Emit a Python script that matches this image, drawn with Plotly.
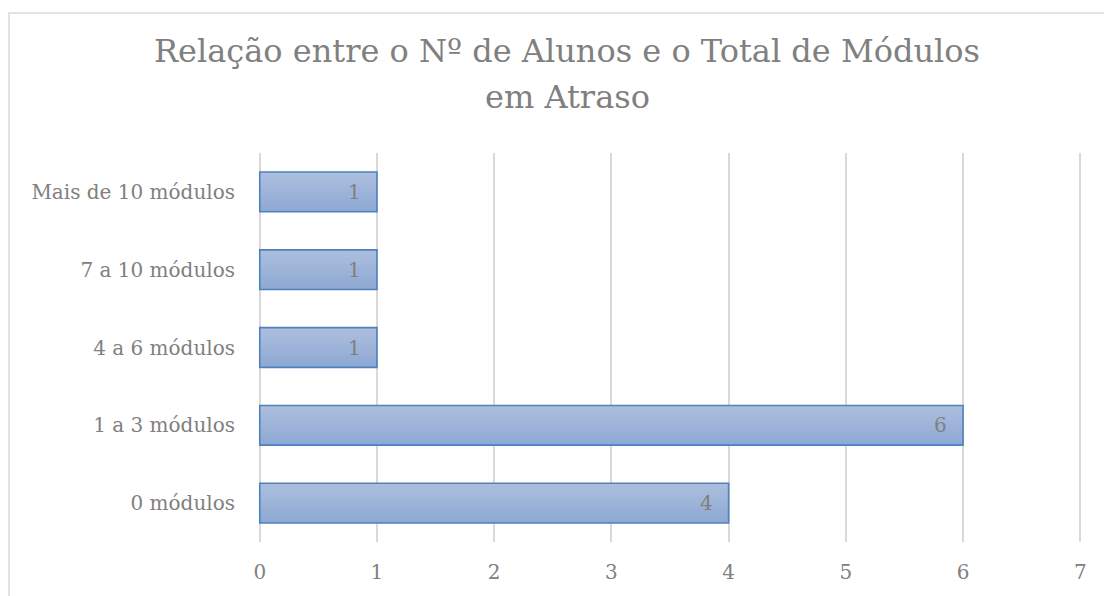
import plotly.graph_objects as go

categories = ["0 módulos", "1 a 3 módulos", "4 a 6 módulos", "7 a 10 módulos", "Mais de 10 módulos"]
values = [4, 6, 1, 1, 1]
x_ticks = [0, 1, 2, 3, 4, 5, 6, 7]
title_lines = ["Relação entre o Nº de Alunos e o Total de Módulos", "em Atraso"]

W, H = 1104, 596
L, R, T, B = 258, 22, 153, 54
FONT = "DejaVu Serif"
GRAY = "#808080"
BAR_W = 0.51

top_rgb = (172, 190, 222)
bot_rgb = (142, 169, 212)
N = 14

fig = go.Figure()
# vertical gradient fill: stacked overlay slices anchored at bar bottom
for k in range(N):
    t = k / (N - 1)
    col = tuple(round(a + (b - a) * t) for a, b in zip(top_rgb, bot_rgb))
    fig.add_trace(go.Bar(
        x=values, y=categories, orientation="h",
        width=BAR_W * (1 - k / N), offset=-BAR_W / 2,
        marker=dict(color="rgb(%d,%d,%d)" % col, line=dict(width=0)),
        hoverinfo="skip",
    ))
# outline
fig.add_trace(go.Bar(
    x=values, y=categories, orientation="h",
    width=BAR_W, offset=-BAR_W / 2,
    marker=dict(color="rgba(0,0,0,0)", line=dict(color="#4f81bd", width=1.6)),
    hoverinfo="skip",
))
for v, c in zip(values, categories):
    fig.add_annotation(x=v, y=c, text=str(v), showarrow=False,
                       xanchor="right", xshift=-14,
                       font=dict(family=FONT, size=20, color=GRAY))

pw = W - L - R
ph = H - T - B
fig.add_shape(type="rect", xref="paper", yref="paper",
              x0=(9 - L) / pw, x1=(W + 20 - L) / pw,
              y0=(H - B - (H + 20)) / ph, y1=(H - B - 13) / ph,
              line=dict(color="#d9d9d9", width=1.5), fillcolor="rgba(0,0,0,0)", layer="below")

# title lines
for line, yc in zip(title_lines, [51, 97]):
    fig.add_annotation(text=line, xref="paper", yref="paper",
                       x=(567 - L) / pw, y=(H - B - yc) / ph,
                       xanchor="center", yanchor="middle", showarrow=False,
                       font=dict(family=FONT, size=32, color=GRAY))

fig.update_layout(
    width=W, height=H,
    margin=dict(l=L, r=R, t=T, b=B, autoexpand=False),
    paper_bgcolor="white", plot_bgcolor="white",
    showlegend=False, barmode="overlay",
    xaxis=dict(range=[-0.015, 7.015], tickvals=x_ticks, showgrid=True, gridcolor="#d9d9d9", gridwidth=1.5,
               zeroline=False, showline=False, ticks="", ticklabelstandoff=16,
               tickfont=dict(family=FONT, size=20, color=GRAY), fixedrange=True),
    yaxis=dict(range=[-0.5, 4.5], autorange=False, showgrid=False, zeroline=False, showline=False,
               ticks="", ticklabelstandoff=22,
               tickfont=dict(family=FONT, size=20, color=GRAY), fixedrange=True),
)

fig.write_html("out.html", config={"displayModeBar": False},
               post_script="document.body.style.margin='0';")
